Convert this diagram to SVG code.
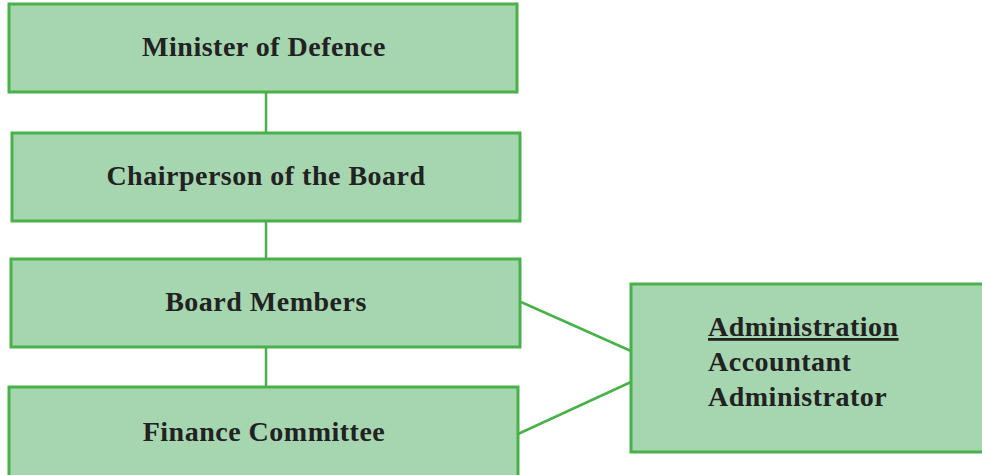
<svg xmlns="http://www.w3.org/2000/svg" width="982" height="475" viewBox="0 0 982 475">
<style>
.box{fill:#a5d6b0;stroke:#48b14a;stroke-width:3}
.ln{stroke:#48b14a;stroke-width:2.5;fill:none}
.t{font-family:"Liberation Serif","Times New Roman",serif;font-weight:bold;font-size:28px;fill:#222;letter-spacing:0.5px}
.c{text-anchor:middle}
</style>
<rect width="982" height="475" fill="#fff"/>
<g id="connectors">
<line class="ln" x1="266" y1="92" x2="266" y2="133"/>
<line class="ln" x1="266" y1="221" x2="266" y2="259"/>
<line class="ln" x1="266" y1="347" x2="266" y2="387"/>
<line class="ln" x1="521" y1="302" x2="631" y2="351"/>
<line class="ln" x1="518" y1="434" x2="631" y2="382"/>
</g>
<g id="minister">
<rect class="box" x="9" y="4" width="508" height="88"/>
<text class="t c" x="264" y="56">Minister of Defence</text>
</g>
<g id="chairperson">
<rect class="box" x="12" y="133" width="508" height="88"/>
<text class="t c" x="266" y="185">Chairperson of the Board</text>
</g>
<g id="board">
<rect class="box" x="11" y="259" width="509" height="88"/>
<text class="t c" x="266" y="311">Board Members</text>
</g>
<g id="finance">
<rect class="box" x="9" y="387" width="509" height="92"/>
<text class="t c" x="264" y="441">Finance Committee</text>
</g>
<g id="administration">
<rect class="box" x="631" y="284" width="360" height="168"/>
<text class="t" x="708" y="336" text-decoration="underline">Administration</text>
<text class="t" x="708" y="371">Accountant</text>
<text class="t" x="708" y="406">Administrator</text>
</g>
</svg>
